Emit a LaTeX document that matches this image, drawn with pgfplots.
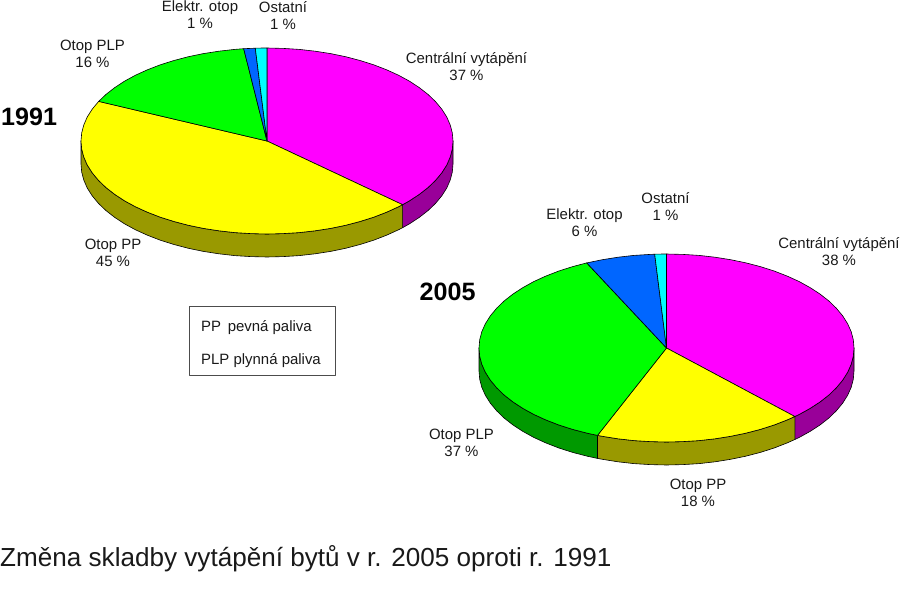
\documentclass[border=0pt]{standalone}
\usepackage{fontspec}
\setmainfont{Liberation Sans}
\usepackage{pgfplots}
\pgfplotsset{compat=1.18}
\definecolor{cMag}{HTML}{FF00FF}
\definecolor{cYel}{HTML}{FFFF00}
\definecolor{cGre}{HTML}{00FF00}
\definecolor{cBlu}{HTML}{0066FF}
\definecolor{cCya}{HTML}{00FFFF}
\definecolor{dMag}{HTML}{990099}
\definecolor{dYel}{HTML}{999900}
\definecolor{dGre}{HTML}{009900}
\newcommand{\lab}[4][]{\node[align=center,font=\fontsize{15}{17}\selectfont,text=black!90,inner sep=0pt,#1] at (axis cs:#2,#3) {#4};}
\begin{document}
\begin{tikzpicture}
\begin{axis}[
  scale only axis, width=900bp, height=588bp,
  xmin=0, xmax=900, ymin=0, ymax=588, y dir=reverse,
  hide axis, clip=false,
  every axis plot/.append style={draw=black, line width=0.6bp, line join=round},
]
\path (axis cs:0,0) rectangle (axis cs:900,588);
% 1991 sides
\addplot[fill=dMag] coordinates {(453,141)(452.3,149.1)(450.2,157.1)(446.7,165.1)(441.8,172.8)(435.6,180.3)(428.1,187.5)(419.4,194.3)(409.5,200.8)(402.6,204.7)
 (402.6,227.7)(409.5,223.8)(419.4,217.3)(428.1,210.5)(435.6,203.3)(441.8,195.8)(446.7,188.1)(450.2,180.1)(452.3,172.1)(453,164)} -- cycle;
\addplot[fill=dYel] coordinates {(402.6,204.7)(398.5,206.8)(386.6,212.2)(373.7,217.2)(360,221.5)(345.6,225.3)(330.6,228.4)(315.1,230.8)(299.3,232.6)(283.2,233.6)(267,234)(250.8,233.6)(234.7,232.6)(218.9,230.8)(203.4,228.4)(188.4,225.3)(174,221.5)(160.3,217.2)(147.4,212.2)(135.5,206.8)(124.5,200.8)(114.6,194.3)(105.9,187.5)(98.4,180.3)(92.2,172.8)(87.3,165.1)(83.8,157.1)(81.7,149.1)(81,141)
 (81,164)(81.7,172.1)(83.8,180.1)(87.3,188.1)(92.2,195.8)(98.4,203.3)(105.9,210.5)(114.6,217.3)(124.5,223.8)(135.5,229.8)(147.4,235.2)(160.3,240.2)(174,244.5)(188.4,248.3)(203.4,251.4)(218.9,253.8)(234.7,255.6)(250.8,256.6)(267,257)(283.2,256.6)(299.3,255.6)(315.1,253.8)(330.6,251.4)(345.6,248.3)(360,244.5)(373.7,240.2)(386.6,235.2)(398.5,229.8)(402.6,227.7)} -- cycle;
% 1991 top
\addplot[fill=cMag] coordinates {(267,141)(267,48)(283.2,48.4)(299.3,49.4)(315.1,51.2)(330.6,53.6)(345.6,56.7)(360,60.5)(373.7,64.8)(386.6,69.8)(398.5,75.2)(409.5,81.2)(419.4,87.7)(428.1,94.5)(435.6,101.7)(441.8,109.2)(446.7,116.9)(450.2,124.9)(452.3,132.9)(453,141)(452.3,149.1)(450.2,157.1)(446.7,165.1)(441.8,172.8)(435.6,180.3)(428.1,187.5)(419.4,194.3)(409.5,200.8)(402.6,204.7)} -- cycle;
\addplot[fill=cYel] coordinates {(267,141)(402.6,204.7)(398.5,206.8)(386.6,212.2)(373.7,217.2)(360,221.5)(345.6,225.3)(330.6,228.4)(315.1,230.8)(299.3,232.6)(283.2,233.6)(267,234)(250.8,233.6)(234.7,232.6)(218.9,230.8)(203.4,228.4)(188.4,225.3)(174,221.5)(160.3,217.2)(147.4,212.2)(135.5,206.8)(124.5,200.8)(114.6,194.3)(105.9,187.5)(98.4,180.3)(92.2,172.8)(87.3,165.1)(83.8,157.1)(81.7,149.1)(81,141)(81.7,132.9)(83.8,124.9)(87.3,116.9)(92.2,109.2)(98.4,101.7)(98.7,101.4)} -- cycle;
\addplot[fill=cGre] coordinates {(267,141)(98.7,101.4)(105.9,94.5)(114.6,87.7)(124.5,81.2)(135.5,75.2)(147.4,69.8)(160.3,64.8)(174,60.5)(188.4,56.7)(203.4,53.6)(218.9,51.2)(234.7,49.4)(243.7,48.7)} -- cycle;
\addplot[fill=cBlu] coordinates {(267,141)(243.7,48.7)(250.8,48.4)(255.3,48.2)} -- cycle;
\addplot[fill=cCya] coordinates {(267,141)(255.3,48.2)(261,48.05)(267,48)} -- cycle;
% 2005 sides
\addplot[fill=dMag] coordinates {(854,348)(853.3,356.2)(851.2,364.3)(847.6,372.3)(842.7,380.1)(836.4,387.7)(828.9,395)(820.1,401.9)(810.1,408.4)(799.1,414.5)(794.8,416.5)
 (794.8,439.5)(799.1,437.5)(810.1,431.4)(820.1,424.9)(828.9,418)(836.4,410.7)(842.7,403.1)(847.6,395.3)(851.2,387.3)(853.3,379.2)(854,371)} -- cycle;
\addplot[fill=dYel] coordinates {(794.8,416.5)(787,420)(774.1,425)(760.3,429.4)(745.7,433.2)(730.6,436.3)(715,438.8)(699.1,440.6)(682.8,441.6)(666.5,442)(650.2,441.6)(633.9,440.6)(618,438.8)(602.4,436.3)(597.5,435.4)
 (597.5,458.4)(602.4,459.3)(618,461.8)(633.9,463.6)(650.2,464.6)(666.5,465)(682.8,464.6)(699.1,463.6)(715,461.8)(730.6,459.3)(745.7,456.2)(760.3,452.4)(774.1,448)(787,443)(794.8,439.5)} -- cycle;
\addplot[fill=dGre] coordinates {(597.5,435.4)(587.3,433.2)(572.7,429.4)(558.9,425)(546,420)(533.9,414.5)(522.9,408.4)(512.9,401.9)(504.1,395)(496.6,387.7)(490.3,380.1)(485.4,372.3)(481.8,364.3)(479.7,356.2)(479,348)
 (479,371)(479.7,379.2)(481.8,387.3)(485.4,395.3)(490.3,403.1)(496.6,410.7)(504.1,418)(512.9,424.9)(522.9,431.4)(533.9,437.5)(546,443)(558.9,448)(572.7,452.4)(587.3,456.2)(597.5,458.4)} -- cycle;
% 2005 top
\addplot[fill=cMag] coordinates {(666.5,348)(666.5,254)(682.8,254.4)(699.1,255.4)(715,257.2)(730.6,259.7)(745.7,262.8)(760.3,266.6)(774.1,271)(787,276)(799.1,281.5)(810.1,287.6)(820.1,294.1)(828.9,301)(836.4,308.3)(842.7,315.9)(847.6,323.7)(851.2,331.7)(853.3,339.8)(854,348)(853.3,356.2)(851.2,364.3)(847.6,372.3)(842.7,380.1)(836.4,387.7)(828.9,395)(820.1,401.9)(810.1,408.4)(799.1,414.5)(794.8,416.5)} -- cycle;
\addplot[fill=cYel] coordinates {(666.5,348)(794.8,416.5)(787,420)(774.1,425)(760.3,429.4)(745.7,433.2)(730.6,436.3)(715,438.8)(699.1,440.6)(682.8,441.6)(666.5,442)(650.2,441.6)(633.9,440.6)(618,438.8)(602.4,436.3)(597.5,435.4)} -- cycle;
\addplot[fill=cGre] coordinates {(666.5,348)(597.5,435.4)(587.3,433.2)(572.7,429.4)(558.9,425)(546,420)(533.9,414.5)(522.9,408.4)(512.9,401.9)(504.1,395)(496.6,387.7)(490.3,380.1)(485.4,372.3)(481.8,364.3)(479.7,356.2)(479,348)(479.7,339.8)(481.8,331.7)(485.4,323.7)(490.3,315.9)(496.6,308.3)(504.1,301)(512.9,294.1)(522.9,287.6)(533.9,281.5)(546,276)(558.9,271)(572.7,266.6)(586.7,262.9)} -- cycle;
\addplot[fill=cBlu] coordinates {(666.5,348)(586.7,262.9)(587.3,262.8)(602.4,259.7)(618,257.2)(633.9,255.4)(650.2,254.4)(654.7,254.2)} -- cycle;
\addplot[fill=cCya] coordinates {(666.5,348)(654.7,254.2)(660.6,254.05)(666.5,254)} -- cycle;
% legend box
\addplot[fill=white, draw=black!70, line width=0.7bp] coordinates {(189,306.5)(335,306.5)(335,375)(189,375)} -- cycle;
% labels
\lab{200}{15}{Elektr. otop\\1 \%}
\lab{283}{16}{Ostatní\\1 \%}
\lab{92.5}{54}{Otop PLP\\16 \%}
\lab{466.5}{66.5}{Centrální vytápění\\37 \%}
\lab{113}{253}{Otop PP\\45 \%}
\lab{584.5}{223}{Elektr. otop\\6 \%}
\lab{665.5}{207}{Ostatní\\1 \%}
\lab{839}{252}{Centrální vytápění\\38 \%}
\lab{461.5}{443}{Otop PLP\\37 \%}
\lab{698}{492.5}{Otop PP\\18 \%}
\node[anchor=west,font=\fontsize{15}{16}\selectfont,text=black!90,inner sep=0pt] at (axis cs:201,327.5) {PP\, pevná paliva};
\node[anchor=west,font=\fontsize{15}{16}\selectfont,text=black!90,inner sep=0pt] at (axis cs:201,360.5) {PLP plynná paliva};
\node[anchor=west,font=\fontsize{25.2}{28}\selectfont\bfseries,inner sep=0pt] at (axis cs:1,117) {1991};
\node[anchor=west,font=\fontsize{25.2}{28}\selectfont\bfseries,inner sep=0pt] at (axis cs:419.5,292) {2005};
\node[anchor=west,font=\fontsize{26.2}{28}\selectfont,text=black!90,inner sep=0pt] at (axis cs:0,559) {Změna skladby vytápění bytů v r. 2005 oproti r. 1991};
\end{axis}
\end{tikzpicture}
\end{document}
